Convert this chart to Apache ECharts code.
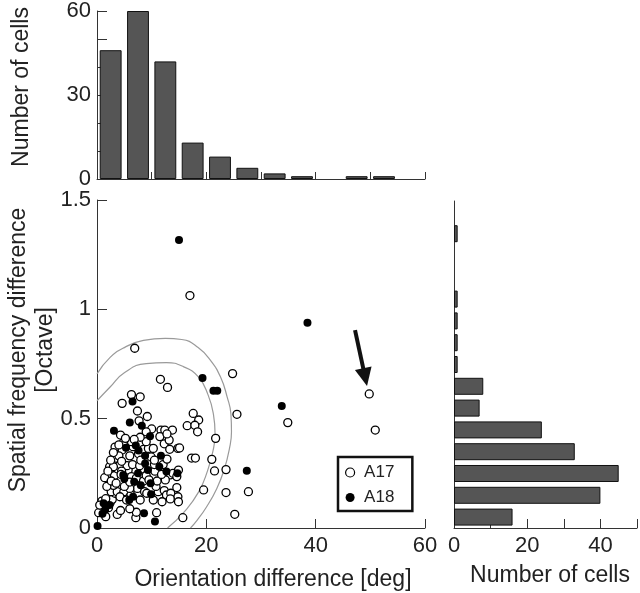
<!DOCTYPE html>
<html><head><meta charset="utf-8">
<script src="https://cdn.jsdelivr.net/npm/echarts@6/dist/echarts.min.js"></script>
<style>html,body{margin:0;padding:0;background:#fff}#c{width:640px;height:593px}</style>
</head><body><div id="c"></div>
<script>
// ---- data ----
const oriBins = ['0-5','5-10','10-15','15-20','20-25','25-30','30-35','35-40','40-45','45-50','50-55','55-60'];
const oriCounts = [46,60,42,13,8,4,2,1,0,1,1,0];
const sfBins = ['0-0.1','0.1-0.2','0.2-0.3','0.3-0.4','0.4-0.5','0.5-0.6','0.6-0.7','0.7-0.8','0.8-0.9','0.9-1.0','1.0-1.1','1.1-1.2','1.2-1.3','1.3-1.4','1.4-1.5'];
const sfCounts = [16,40,45,33,24,7,8,1,1,1,1,0,0,1,0];

const a17 = [
 [25.2,0.0625],[15.7,0.047],[10.9,0.07],[7.1,0.047],[7.2,0.072],[6.0,0.088],[3.7,0.062],[1.6,0.052],[0.3,0.07],[2.1,0.093],[4.3,0.08],
 [27.7,0.166],[23.6,0.162],[19.5,0.174],[2.4,0.116],[0.9,0.123],[0.5,0.105],[2.8,0.131],[3.3,0.159],[2.6,0.166],[3.7,0.166],[1.6,0.134],[4.9,0.166],[6.2,0.151],[7.4,0.181],[8.7,0.166],[9.1,0.159],[11.2,0.166],[12.3,0.171],[12.7,0.151],[13.5,0.159],[14.8,0.143],[14.9,0.12],[14.6,0.185],[13.4,0.133],[4.2,0.143],[5.4,0.128],[7.9,0.128],[10.3,0.128],[11.9,0.12],[6.0,0.181],[10.8,0.19],[5.0,0.19],[3.0,0.195],[1.8,0.19],
 [23.6,0.267],[21.5,0.261],[1.4,0.23],[5.7,0.265],[6.3,0.235],[8.1,0.27],[2.3,0.28],[13.4,0.243],[13.9,0.25],[14.9,0.265],[14.6,0.235],[3.2,0.24],[3.8,0.27],[2.6,0.215],[4.2,0.29],[5.5,0.285],[6.5,0.29],[7.2,0.228],[8.5,0.215],[9.0,0.24],[10.6,0.26],[11.0,0.215],[12.1,0.29],[12.5,0.22],[3.0,0.28],[2.0,0.26],[3.5,0.205],[4.5,0.26],[6.0,0.21],[7.8,0.285],[10.5,0.29],[11.8,0.245],[4.4,0.245],[9.5,0.22],
 [21.0,0.314],[17.3,0.32],[18.0,0.32],[14.8,0.364],[15.1,0.366],[4.6,0.357],[3.6,0.319],[4.0,0.33],[4.8,0.39],[6.6,0.372],[7.6,0.34],[8.5,0.36],[9.4,0.364],[10.3,0.364],[3.3,0.37],[9.9,0.325],[12.3,0.385],[13.3,0.36],[3.0,0.345],[2.5,0.31],[4.5,0.305],[6.0,0.33],[8.0,0.31],[9.0,0.395],[10.5,0.31],[12.8,0.315],[6.3,0.395],[4.0,0.38],
 [50.9,0.448],[34.9,0.482],[21.7,0.41],[16.5,0.468],[18.6,0.494],[17.9,0.47],[18.4,0.44],[7.7,0.49],[10.0,0.453],[11.7,0.448],[12.4,0.448],[13.8,0.448],[11.5,0.418],[13.2,0.402],[7.9,0.415],[4.3,0.425],[5.2,0.41],[9.0,0.44],[12.8,0.43],[6.8,0.405],
 [25.6,0.52],[17.6,0.524],[4.6,0.57],[7.4,0.535],[9.2,0.51],
 [11.6,0.68],[12.9,0.643],[49.8,0.613],[6.3,0.61],[7.9,0.6],
 [24.8,0.706],[6.9,0.822],[17.0,1.063]
];
const a18 = [
 [0.1,0.009],[10.6,0.03],[8.6,0.067],[1.0,0.065],[1.5,0.083],
 [6.6,0.143],[5.9,0.128],[9.9,0.154],[1.2,0.113],[2.3,0.105],[8.0,0.195],
 [27.4,0.262],[4.8,0.242],[6.8,0.212],[7.5,0.25],[9.3,0.265],[11.4,0.28],[12.7,0.258],[14.7,0.25],[5.0,0.225],[9.8,0.205],[8.8,0.295],
 [5.3,0.367],[7.1,0.377],[7.6,0.354],[11.7,0.33],[8.8,0.33],
 [6.0,0.482],[3.1,0.445],[8.2,0.468],[9.7,0.42],
 [33.8,0.558],[6.5,0.578],
 [19.3,0.686],[21.3,0.628],[22.0,0.628],
 [38.5,0.939],[15.0,1.317]
];
const contourOuter = [[0,0.705],[2.4,0.78],[5.0,0.825],[8.5,0.858],[12.5,0.867],[15.5,0.862],[18.5,0.825],[20.8,0.765],[22.6,0.69],[23.8,0.6],[24.5,0.52],[24.6,0.44],[24.2,0.36],[23.3,0.27],[21.9,0.18],[20.0,0.095],[18.3,0.035],[17.1,0]];
const contourInner = [[0,0.582],[2.4,0.645],[5.0,0.71],[9.0,0.752],[12.7,0.756],[15.8,0.738],[18.5,0.692],[20.3,0.61],[21.3,0.52],[21.6,0.43],[21.2,0.35],[20.2,0.26],[18.6,0.165],[16.0,0.075],[12.9,0]];
const arrowFrom = [47.2, 0.905];
const arrowTo = [49.05, 0.69];

// ---- chart ----
const FONT = '"Liberation Sans", Arial, sans-serif';
const TXT = '#222';
const AX = '#333';
const chart = echarts.init(document.getElementById('c'), null, {renderer:'canvas'});
const lbl = (extra) => Object.assign({fontSize:22, color:TXT, fontFamily:FONT}, extra||{});
const barData = (arr) => arr.map(v => v > 0 ? v : '-');

chart.setOption({
  animation:false,
  backgroundColor:'#fff',
  grid:[
    {left:97, top:200, width:328, height:328},
    {left:97, top:7, width:328, height:172},
    {left:454, top:201, width:184, height:327}
  ],
  xAxis:[
    {gridIndex:0, type:'value', min:0, max:60, interval:20,
     axisLine:{show:true, onZero:false, lineStyle:{color:AX, width:1}},
     axisTick:{show:true, inside:true, length:9, lineStyle:{color:AX}},
     axisLabel:lbl({margin:7}), splitLine:{show:false}},
    {gridIndex:1, type:'category', data:oriBins,
     axisLine:{show:true, lineStyle:{color:AX}},
     axisTick:{show:true, inside:true, length:7, interval:1, lineStyle:{color:AX}},
     axisLabel:{show:false}, splitLine:{show:false}},
    {gridIndex:2, type:'value', min:0, max:50, interval:10,
     axisLine:{show:true, onZero:false, lineStyle:{color:AX}},
     axisTick:{show:true, inside:true, length:9, lineStyle:{color:AX}},
     axisLabel:lbl({margin:7, formatter:(v)=> (v%20===0 ? String(v) : '')}), splitLine:{show:false}}
  ],
  yAxis:[
    {gridIndex:0, type:'value', min:0, max:1.5, interval:0.5,
     axisLine:{show:true, onZero:false, lineStyle:{color:AX}},
     axisTick:{show:true, inside:true, length:10, lineStyle:{color:AX}},
     axisLabel:lbl({margin:6}), splitLine:{show:false}},
    {gridIndex:1, type:'value', min:0, max:60, interval:10,
     axisLine:{show:true, onZero:false, lineStyle:{color:AX}},
     axisTick:{show:true, inside:true, length:10, lineStyle:{color:AX}},
     axisLabel:lbl({margin:6, formatter:(v)=> (v%30===0 ? String(v) : '')}), splitLine:{show:false}},
    {gridIndex:2, type:'category', data:sfBins,
     axisLine:{show:true, lineStyle:{color:AX}},
     axisTick:{show:false},
     axisLabel:{show:false}, splitLine:{show:false}}
  ],
  legend:{
    orient:'vertical', left:338, top:457,
    borderColor:'#111', borderWidth:2.5, borderRadius:0,
    padding:[7,18,5,7],
    itemWidth:18, itemHeight:9, itemGap:8,
    textStyle:{fontSize:17, color:TXT, fontFamily:FONT, lineHeight:17},
    selectedMode:false,
    data:[
      {name:'A17', icon:'circle', itemStyle:{color:'#fff', borderColor:'#000', borderWidth:1.2}},
      {name:'A18', icon:'circle', itemStyle:{color:'#000', borderWidth:0}}
    ]
  },
  graphic:[
    {type:'text', x:22, y:87, rotation:Math.PI/2,
     style:{text:'Number of cells', font:'23px '+FONT, fill:TXT, textAlign:'center', textVerticalAlign:'middle'}},
    {type:'text', x:32, y:350, rotation:Math.PI/2,
     style:{text:'Spatial frequency difference\n[Octave]', font:'23px '+FONT, lineHeight:27, fill:TXT, textAlign:'center', textVerticalAlign:'middle'}},
    {type:'text', x:273, y:580,
     style:{text:'Orientation difference [deg]', font:'23px '+FONT, fill:TXT, textAlign:'center', textVerticalAlign:'middle'}},
    {type:'text', x:550, y:576,
     style:{text:'Number of cells', font:'23px '+FONT, fill:TXT, textAlign:'center', textVerticalAlign:'middle'}}
  ],
  series:[
    {type:'line', name:'outer', xAxisIndex:0, yAxisIndex:0, data:contourOuter, smooth:0.5, showSymbol:false, symbol:'none',
     lineStyle:{color:'#9a9a9a', width:1.2}, silent:true, z:1},
    {type:'line', name:'inner', xAxisIndex:0, yAxisIndex:0, data:contourInner, smooth:0.5, showSymbol:false, symbol:'none',
     lineStyle:{color:'#9a9a9a', width:1.2}, silent:true, z:1},
    {type:'scatter', name:'A17', xAxisIndex:0, yAxisIndex:0, data:a17, symbol:'circle', symbolSize:8,
     itemStyle:{color:'#fff', borderColor:'#000', borderWidth:1.3, opacity:1}, z:3,
     markLine:{silent:true, symbol:['none','triangle'], symbolSize:[17,18], label:{show:false},
       lineStyle:{color:'#111', width:4, type:'solid'},
       itemStyle:{color:'#111'},
       data:[[{coord:arrowFrom},{coord:arrowTo}]]}},
    {type:'scatter', name:'A18', xAxisIndex:0, yAxisIndex:0, data:a18, symbol:'circle', symbolSize:8,
     itemStyle:{color:'#000', opacity:1}, z:4},
    {type:'bar', name:'oriHist', xAxisIndex:1, yAxisIndex:1, data:barData(oriCounts), barCategoryGap:'20%',
     itemStyle:{color:'#555', borderColor:'#111', borderWidth:1}, silent:true},
    {type:'bar', name:'sfHist', xAxisIndex:2, yAxisIndex:2, data:barData(sfCounts), barCategoryGap:'22%',
     itemStyle:{color:'#555', borderColor:'#111', borderWidth:1}, silent:true}
  ]
});
</script></body></html>
